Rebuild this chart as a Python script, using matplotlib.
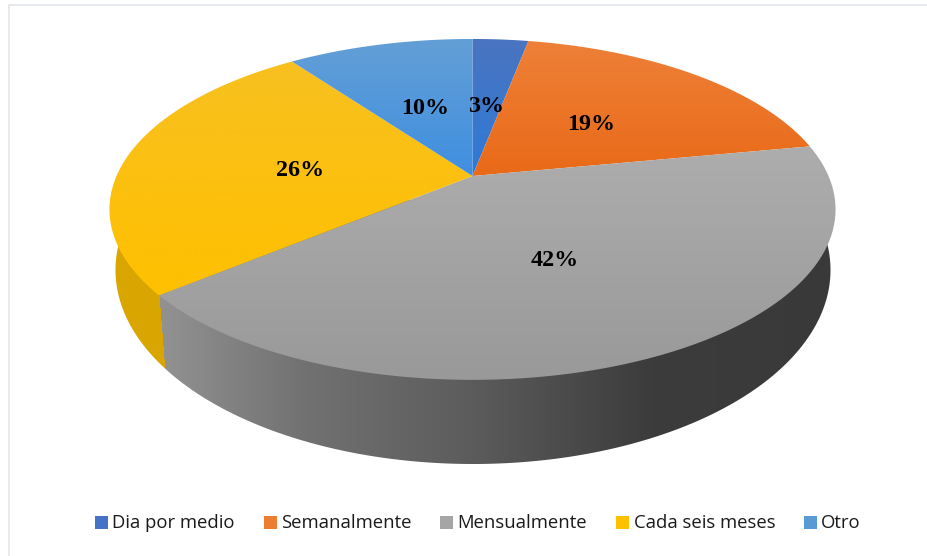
import numpy as np
import matplotlib
matplotlib.use('Agg')
import matplotlib.pyplot as plt
from matplotlib.patches import Polygon, Rectangle
from matplotlib.colors import to_rgb

categories = ['Dia por medio', 'Semanalmente', 'Mensualmente', 'Cada seis meses', 'Otro']
values = [3, 19, 42, 26, 10]
labels = ['3%', '19%', '42%', '26%', '10%']
legend_colors = ['#4472c4', '#ed7d31', '#a5a5a5', '#ffc000', '#5b9bd5']
top_colors = [('#4a74c0', '#2f7ad8'), ('#ee8038', '#e96a18'), ('#adadad', '#999999'),
              ('#f8c020', '#ffc000'), ('#639fd6', '#3f8fe0')]
label_x = [486, 591, 555, 300.5, 425]
label_y = [107, 125, 260, 170, 109]

# perspective of the top disc, in pixels
cx, cy = 472.5, 176.0
A, B, k = 356.0, 163.9, 0.196
# bottom outline of the side wall
cx2, cy2, a2, b2 = 473.0, 270.0, 357.5, 194.0


def project(ang):
    u = np.sin(ang)
    v = -np.cos(ang)
    w = 1 - k*v
    return cx + A*u/w, cy + B*v/w


def gradient_patch(ax, pts, c1, c2):
    patch = Polygon(pts, closed=True, fc='none', ec='none')
    ax.add_patch(patch)
    y0, y1 = pts[:, 1].min(), pts[:, 1].max()
    x0, x1 = pts[:, 0].min(), pts[:, 0].max()
    t = np.linspace(0, 1, 64)[:, None, None]
    img = np.array(to_rgb(c1))[None, None, :]*(1-t) + np.array(to_rgb(c2))[None, None, :]*t
    im = ax.imshow(img, extent=[x0, x1, y1, y0], aspect='auto', interpolation='bilinear', zorder=3)
    im.set_clip_path(patch)


fig = plt.figure(figsize=(9.27, 5.56), dpi=100)
ax = fig.add_axes([0, 0, 1, 1])
# only the left and top of the chart frame are in the picture
ax.plot([9.5, 9.5, 927], [556, 4.5, 4.5], color='#e2e5ea', lw=1.2, zorder=1)

edges = np.cumsum([0] + values)/sum(values)*2*np.pi

# side wall: horizontal shading, yellow left of the wedge boundary
bx, by = project(edges[3])
xs = np.arange(100, 850)
wall_xp = [160, 300, 470, 650, 850]
wall_gp = [0x92, 0x72, 0x5c, 0x3c, 0x39]
grey = np.interp(xs, wall_xp, wall_gp)/255
ys = np.arange(200, 480)
img = np.zeros((ys.size, xs.size, 3))
for i, yy in enumerate(ys):
    bound = bx + (yy-by)*6/76
    img[i, :, :] = grey[:, None]
    img[i, xs < bound, :] = to_rgb('#d9a500')
t = np.linspace(0, 2*np.pi, 400)
wall = Polygon(np.c_[cx2 + a2*np.cos(t), cy2 + b2*np.sin(t)], closed=True, fc='none', ec='none')
ax.add_patch(wall)
im = ax.imshow(img, extent=[100, 850, 480, 200], aspect='auto', interpolation='bilinear', zorder=2)
im.set_clip_path(wall)

# top of the pie
for i in range(len(values)):
    ang = np.linspace(edges[i], edges[i+1], 150)
    px, py = project(ang)
    pts = np.c_[np.r_[cx, px], np.r_[cy, py]]
    gradient_patch(ax, pts, top_colors[i][0], top_colors[i][1])

for i in range(len(labels)):
    ax.text(label_x[i], label_y[i], labels[i], family='Liberation Serif', weight='bold',
            fontsize=17.3, color='black', ha='center', va='center', zorder=5)

handles = [Rectangle((0, 0), 1, 1, fc=c, ec='none') for c in legend_colors]
leg = ax.legend(handles, categories, ncol=5, loc='center', bbox_to_anchor=(478/927, 1-523.5/556),
                frameon=False, prop={'family': 'Open Sans', 'size': 13.3},
                handlelength=0.7, handleheight=0.7, handletextpad=0.24, columnspacing=1.56,
                borderpad=0, labelcolor='#1a1a1a')

ax.set_xlim(0, 927)
ax.set_ylim(556, 0)
ax.axis('off')
fig.savefig('out.png', dpi=100)
